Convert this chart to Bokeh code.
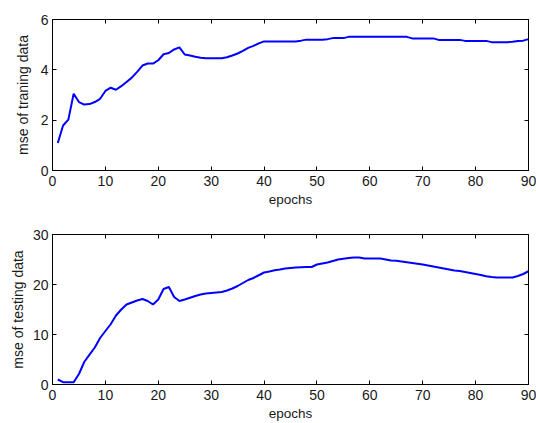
from bokeh.plotting import figure
from bokeh.layouts import column
from bokeh.models import Range1d, LinearAxis, FixedTicker
from bokeh.embed import file_html
from bokeh.resources import INLINE

epochs = list(range(1, 91))

train_mse = [
    1.09, 1.79, 2.02, 3.05, 2.72, 2.62, 2.64, 2.72, 2.85, 3.16,
    3.29, 3.21, 3.35, 3.52, 3.69, 3.92, 4.17, 4.25, 4.25, 4.38,
    4.62, 4.67, 4.81, 4.89, 4.61, 4.57, 4.52, 4.48, 4.46, 4.46,
    4.46, 4.46, 4.50, 4.57, 4.65, 4.75, 4.87, 4.95, 5.05, 5.13,
    5.13, 5.13, 5.13, 5.13, 5.13, 5.13, 5.16, 5.20, 5.20, 5.20,
    5.20, 5.22, 5.26, 5.26, 5.26, 5.31, 5.31, 5.31, 5.31, 5.31,
    5.31, 5.31, 5.31, 5.31, 5.31, 5.31, 5.31, 5.25, 5.25, 5.25,
    5.25, 5.25, 5.19, 5.19, 5.19, 5.19, 5.19, 5.15, 5.15, 5.15,
    5.15, 5.15, 5.10, 5.10, 5.10, 5.10, 5.12, 5.15, 5.16, 5.22,
]

test_mse = [
    1.00, 0.46, 0.46, 0.46, 2.10, 4.50, 5.96, 7.40, 9.30, 10.70,
    12.05, 13.80, 15.00, 16.00, 16.40, 16.80, 17.10, 16.70, 16.00, 17.00,
    19.10, 19.50, 17.50, 16.70, 17.00, 17.35, 17.70, 18.00, 18.20, 18.30,
    18.40, 18.50, 18.80, 19.20, 19.70, 20.30, 20.90, 21.30, 21.85, 22.40,
    22.60, 22.85, 23.00, 23.20, 23.30, 23.40, 23.45, 23.50, 23.50, 24.00,
    24.20, 24.40, 24.70, 25.00, 25.15, 25.30, 25.40, 25.40, 25.20, 25.20,
    25.20, 25.20, 25.00, 24.80, 24.75, 24.60, 24.45, 24.30, 24.15, 24.00,
    23.80, 23.60, 23.40, 23.20, 23.00, 22.80, 22.70, 22.50, 22.30, 22.10,
    21.90, 21.65, 21.50, 21.40, 21.40, 21.40, 21.40, 21.70, 22.10, 22.65,
]

x_ticks = [0, 10, 20, 30, 40, 50, 60, 70, 80, 90]
train_ticks = [0, 2, 4, 6]
test_ticks = [0, 10, 20, 30]

FONT = "Liberation Sans"


def style_axis(ax, show_labels=True):
    ax.axis_line_color = "black"
    ax.major_tick_line_color = "black"
    ax.major_tick_in = 4
    ax.major_tick_out = 0
    ax.minor_tick_line_color = None
    ax.major_label_text_font = FONT
    ax.major_label_text_font_size = "14px"
    ax.axis_label_text_font = FONT
    ax.axis_label_text_font_style = "normal"
    ax.axis_label_text_color = "#1a1a1a"
    if show_labels:
        ax.major_label_text_color = "#1a1a1a"
    else:
        ax.major_label_text_color = None
        ax.major_label_standoff = 0


def make_panel(y, ymax, yticks, ylabel, height, top, bottom, ylab_standoff):
    p = figure(width=536, height=height, x_range=Range1d(0, 90),
               y_range=Range1d(0, ymax), output_backend="svg",
               toolbar_location=None, min_border_left=52,
               min_border_right=8, min_border_top=top,
               min_border_bottom=bottom)
    p.xgrid.visible = False
    p.ygrid.visible = False
    p.outline_line_color = "black"
    p.background_fill_color = "white"
    p.border_fill_color = "white"
    p.line(epochs, y, color="#0000ff", line_width=2)

    p.xaxis.ticker = FixedTicker(ticks=x_ticks)
    p.yaxis.ticker = FixedTicker(ticks=yticks)
    p.xaxis.axis_label = "epochs"
    p.yaxis.axis_label = ylabel
    style_axis(p.xaxis[0])
    style_axis(p.yaxis[0])
    p.xaxis.axis_label_text_font_size = "13.5px"
    p.yaxis.axis_label_text_font_size = "14px"
    p.xaxis.major_label_standoff = 5
    p.xaxis.axis_label_standoff = 3
    p.yaxis.major_label_standoff = 4
    p.yaxis.axis_label_standoff = ylab_standoff

    right = LinearAxis(ticker=FixedTicker(ticks=yticks))
    style_axis(right, show_labels=False)
    p.add_layout(right, "right")
    above = LinearAxis(ticker=FixedTicker(ticks=x_ticks))
    style_axis(above, show_labels=False)
    p.add_layout(above, "above")
    return p


p1 = make_panel(train_mse, 6, train_ticks, "mse of traning data", 212, 19, 42, 7)
p2 = make_panel(test_mse, 30, test_ticks, "mse of testing data", 211, 22, 26, 4)

layout = column(p1, p2, spacing=0)
open("out.html", "w").write(file_html(layout, INLINE))
